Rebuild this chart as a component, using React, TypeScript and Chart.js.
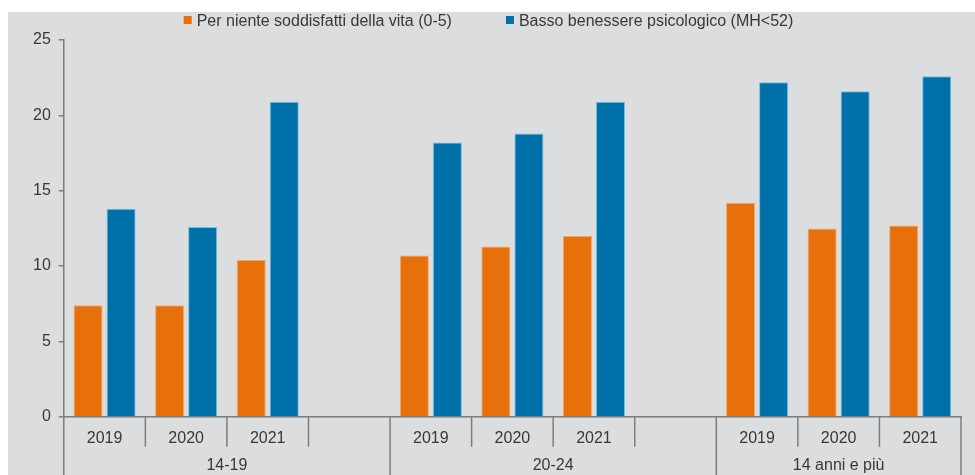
import React, { useEffect, useRef } from "react";
import { Chart, registerables } from "chart.js";

Chart.register(...registerables);

const categories = ["2019", "2020", "2021", "", "2019", "2020", "2021", "", "2019", "2020", "2021"];
const soddisfatti = [7.4, 7.4, 10.4, null, 10.7, 11.3, 12.0, null, 14.2, 12.5, 12.7];
const benessere = [13.8, 12.6, 20.9, null, 18.2, 18.8, 20.9, null, 22.2, 21.6, 22.6];
const groupLabels = ["14-19", "20-24", "14 anni e più"];
const groupStarts = [0, 4, 8];
const groupEnds = [3, 7, 10];
const seriesLabels = ["Per niente soddisfatti della vita (0-5)", "Basso benessere psicologico (MH<52)"];
const yTicks = [0, 5, 10, 15, 20, 25];

const ORANGE = "#E8700B";
const BLUE = "#0070A8";
const AXIS = "#7d7d7d";
const TEXT = "#383838";
const BG = "#dcdddf";
const FONT = '"Liberation Sans", Arial, sans-serif';
const FS = 16;

const groupPlugin = {
  id: "groupAxis",
  afterDraw(chart: any) {
    const ctx = chart.ctx;
    const x = chart.scales.x;
    const ca = chart.chartArea;
    const n = categories.length;
    const half = (x.getPixelForValue(1) - x.getPixelForValue(0)) / 2;
    ctx.save();
    ctx.strokeStyle = AXIS;
    ctx.lineWidth = 1.5;
    for (let i = 0; i <= n; i++) {
      const px = i < n ? x.getPixelForValue(i) - half : x.getPixelForValue(n - 1) + half;
      const isLong = i === n || groupStarts.includes(i);
      const bottom = isLong ? chart.height : ca.bottom + 30;
      ctx.beginPath();
      ctx.moveTo(px, ca.bottom);
      ctx.lineTo(px, bottom);
      ctx.stroke();
    }
    ctx.fillStyle = TEXT;
    ctx.font = FS + "px " + FONT;
    ctx.textAlign = "center";
    ctx.textBaseline = "middle";
    groupLabels.forEach((g, k) => {
      const l = x.getPixelForValue(groupStarts[k]) - half;
      const r = x.getPixelForValue(groupEnds[k]) + half;
      ctx.fillText(g, (l + r) / 2, ca.bottom + 49);
    });

    // legend
    const box = 8;
    const boxGap = 5;
    const itemGap = 54;
    const widths = chart.data.datasets.map((d: any) => box + boxGap + ctx.measureText(d.label).width);
    const total = widths.reduce((a: number, b: number) => a + b, 0) + itemGap * (widths.length - 1);
    let cx = chart.width / 2 - 3 - total / 2;
    ctx.textAlign = "left";
    ctx.textBaseline = "alphabetic";
    chart.data.datasets.forEach((d: any, k: number) => {
      ctx.fillStyle = d.backgroundColor;
      ctx.fillRect(cx, 4, box, box);
      ctx.fillStyle = TEXT;
      ctx.fillText(d.label, cx + box + boxGap, 14);
      cx += widths[k] + itemGap;
    });
    ctx.restore();
  },
};

export default function App() {
  const ref = useRef<HTMLCanvasElement>(null);
  useEffect(() => {
    if (!ref.current) return;
    const chart = new Chart(ref.current, {
      type: "bar",
      data: {
        labels: categories,
        datasets: [
          {
            label: seriesLabels[0],
            data: soddisfatti,
            backgroundColor: ORANGE,
            borderColor: "#f4a865",
            borderWidth: 1,
            categoryPercentage: 0.81,
            barPercentage: 0.88,
          },
          {
            label: seriesLabels[1],
            data: benessere,
            backgroundColor: BLUE,
            borderColor: "#6ec0ec",
            borderWidth: 1,
            categoryPercentage: 0.81,
            barPercentage: 0.88,
          },
        ],
      },
      options: {
        responsive: false,
        animation: false,
        layout: { padding: { top: 28, left: 17, right: 14, bottom: 23 } },
        plugins: {
          legend: { display: false },
          tooltip: { enabled: false },
        },
        scales: {
          x: {
            grid: { display: false },
            border: { display: true, color: AXIS, width: 1.5 },
            ticks: {
              autoSkip: false,
              maxRotation: 0,
              padding: 4,
              color: TEXT,
              font: { family: FONT, size: FS },
            },
          },
          y: {
            min: 0,
            max: 25,
            afterBuildTicks: (axis: any) => {
              axis.ticks = yTicks.map((v) => ({ value: v }));
            },
            grid: { drawOnChartArea: false, drawTicks: true, tickLength: 5, color: AXIS, lineWidth: 1.5 },
            border: { display: true, color: AXIS, width: 1.5 },
            ticks: {
              padding: 8,
              color: TEXT,
              font: { family: FONT, size: FS },
            },
          },
        },
      },
      plugins: [groupPlugin],
    });
    return () => chart.destroy();
  }, []);
  return (
    <div style={{ position: "absolute", left: 8, top: 12, width: 967, height: 463, background: BG }}>
      <canvas ref={ref} width={967} height={463} style={{ display: "block" }} />
    </div>
  );
}
